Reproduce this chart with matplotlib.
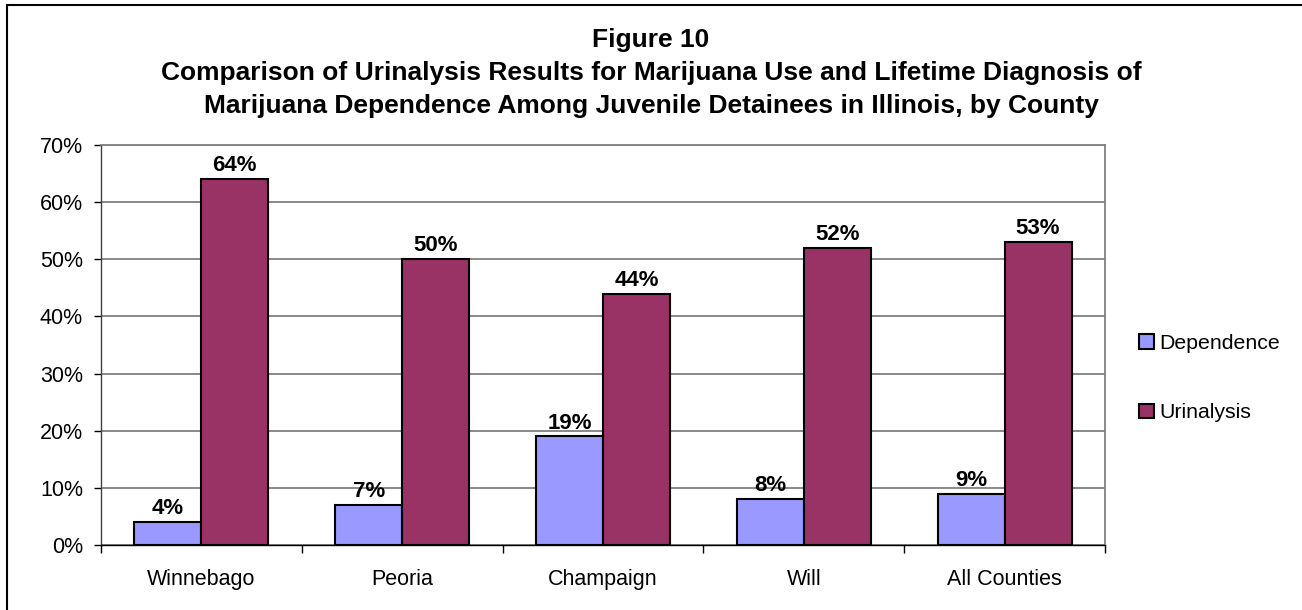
import matplotlib.pyplot as plt
import numpy as np
from matplotlib.patches import Rectangle

plt.rcParams['font.family'] = ['Liberation Sans', 'DejaVu Sans']

counties = ["Winnebago", "Peoria", "Champaign", "Will", "All Counties"]
dependence = [4, 7, 19, 8, 9]
urinalysis = [64, 50, 44, 52, 53]
series_names = ["Dependence", "Urinalysis"]
colors = ["#9999FF", "#993366"]
y_ticks = [0, 10, 20, 30, 40, 50, 60, 70]
title = ("Figure 10\n"
         "Comparison of Urinalysis Results for Marijuana Use and Lifetime Diagnosis of\n"
         "Marijuana Dependence Among Juvenile Detainees in Illinois, by County")

W, H = 1302, 610
fig = plt.figure(figsize=(W / 100, H / 100), dpi=100)
fig.patch.set_facecolor("white")

# outer chart frame (runs off the right and bottom edges)
fig.add_artist(Rectangle((7 / W, -0.05), 1.2, 1 - 4.5 / H + 0.05,
                         transform=fig.transFigure, fill=False,
                         edgecolor="black", linewidth=1.5))

ax = fig.add_axes([101 / W, (H - 545) / H, (1105 - 101) / W, (545 - 145) / H])

x = np.arange(len(counties))
w = 1 / 3
bars_d = ax.bar(x - w / 2, dependence, w, color=colors[0], edgecolor="black",
                linewidth=1.5, label=series_names[0], zorder=3)
bars_u = ax.bar(x + w / 2, urinalysis, w, color=colors[1], edgecolor="black",
                linewidth=1.5, label=series_names[1], zorder=3)

for bars, vals in ((bars_d, dependence), (bars_u, urinalysis)):
    for b, v in zip(bars, vals):
        ax.text(b.get_x() + b.get_width() / 2, v + 0.5, f"{v}%",
                ha="center", va="bottom", fontsize=16, fontweight="bold")

ax.set_xlim(-0.5, len(counties) - 0.5)
ax.set_ylim(0, 70)
ax.set_yticks(y_ticks)
ax.set_yticklabels([f"{t}%" for t in y_ticks], fontsize=15.5)
ax.yaxis.grid(True, color="#808080", linewidth=1.3, zorder=0)
ax.set_axisbelow(True)

ax.set_xticks(x)
ax.set_xticklabels(counties, fontsize=15.5)
ax.tick_params(axis="x", length=0, pad=17)
ax.set_xticks(np.arange(len(counties) + 1) - 0.5, minor=True)
ax.tick_params(axis="x", which="minor", length=6, width=1, color="black")
ax.tick_params(axis="y", length=5, width=1, color="black", pad=8)

for side in ("top", "right"):
    ax.spines[side].set_color("#808080")
    ax.spines[side].set_linewidth(1.3)
ax.spines["left"].set_color("#404040")
ax.spines["bottom"].set_color("black")
ax.spines["left"].set_linewidth(1)
ax.spines["bottom"].set_linewidth(1)

fig.text(651 / W, 1 - 28 / H, title, ha="center", va="top", fontsize=19,
         fontweight="bold", linespacing=1.47)

ax.legend(loc="center left", bbox_to_anchor=(1.015, 0.4175), frameon=False,
          fontsize=15.3, handlelength=0.7, handleheight=0.7, handletextpad=0.25,
          labelspacing=2.39)

fig.savefig("out.png", dpi=100)
